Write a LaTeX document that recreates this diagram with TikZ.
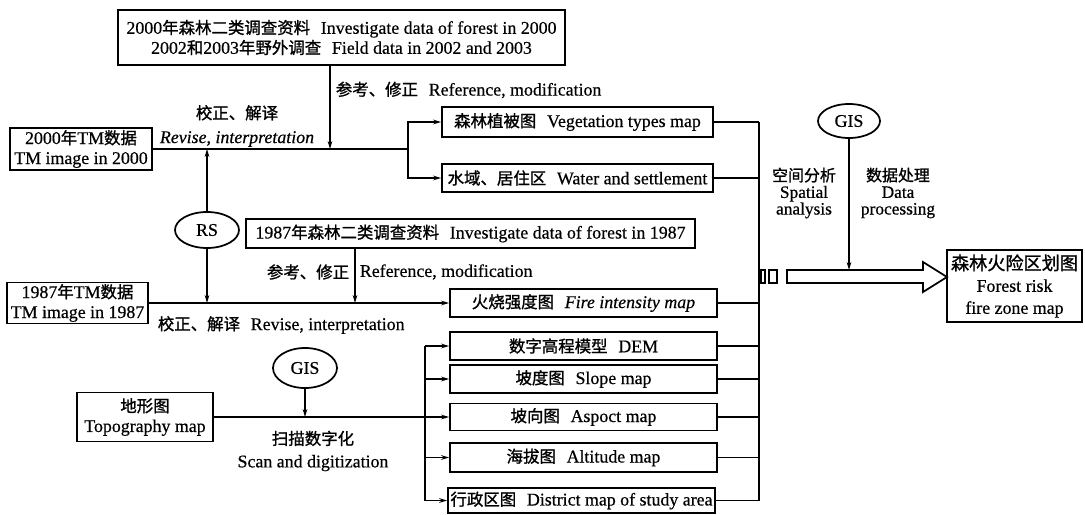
\documentclass[tikz,border=0pt]{standalone}
\usepackage{fontspec}
\setmainfont{Liberation Serif}[FakeBold=0.5]
\newfontfamily\cjk{Noto Sans CJK SC}[Scale=0.92,FakeBold=1.2]
\newcommand{\zh}[1]{{\cjk #1}}
\newcommand{\gp}{\hspace{0.6em}}
\usetikzlibrary{arrows.meta,shapes.geometric}
\begin{document}
\begin{tikzpicture}[x=0.75pt,y=-0.75pt, line width=1.3pt,
  bx/.style 2 args={draw, rectangle, minimum width=#1*0.75pt, minimum height=#2*0.75pt, inner sep=0pt, align=center},
  el/.style 2 args={draw, ellipse, minimum width=#1*0.75pt, minimum height=#2*0.75pt, inner sep=0pt},
  lbl/.style={inner sep=0pt, align=center},
  arr/.style={-{Stealth[length=6pt,width=3.5pt]}},
  font=\fontsize{13.4}{15}\selectfont]
\useasboundingbox (0,0) rectangle (1085,514);

% boxes
\node[bx={447}{55}] (top) at (341.5,37.5) {2000\zh{年森林二类调查资料}\gp Investigate data of forest in 2000\\2002\zh{和}2003\zh{年野外调查}\gp Field data in 2002 and 2003};
\node[bx={142}{42}] (tm2000) at (81,149) {2000\zh{年}TM\zh{数据}\\TM image in 2000};
\node[bx={271}{30}] (veg) at (577.5,122) {\zh{森林植被图}\gp Vegetation types map};
\node[bx={271}{28}] (water) at (577.5,178) {\zh{水域、居住区}\gp Water and settlement};
\node[el={64}{36}] (rs) at (207,230) {RS};
\node[bx={449}{29}] (inv87) at (470.5,233.5) {1987\zh{年森林二类调查资料}\gp Investigate data of forest in 1987};
\node[bx={141}{41}] (tm1987) at (77.5,303) {1987\zh{年}TM\zh{数据}\\TM image in 1987};
\node[bx={267}{28}] (fire) at (583.5,303) {\zh{火烧强度图}\gp\textit{Fire intensity map}};
\node[el={64}{40}] (gis2) at (305,368) {GIS};
\node[bx={136}{49}] (topo) at (145,417) {\zh{地形图}\\Topography map};
\node[bx={267}{28}] (dem) at (583.5,346) {\zh{数字高程模型}\gp DEM};
\node[bx={267}{28}] (slope) at (583.5,379) {\zh{坡度图}\gp Slope map};
\node[bx={267}{27}] (aspect) at (583.5,417) {\zh{坡向图}\gp Aspoct map};
\node[bx={267}{29}] (alt) at (583.5,457.5) {\zh{海拔图}\gp Altitude map};
\node[bx={267}{25}] (dist) at (581.5,500.5) {\zh{行政区图}\gp District map of study area};
\node[el={62}{34}] (gis1) at (849,121) {GIS};
\node[bx={135}{72}, font=\fontsize{13.4}{16.5}\selectfont] (final) at (1014.5,286) {{\fontsize{14.8}{16.5}\selectfont\zh{森林火险区划图}}\\Forest risk\\fire zone map};

% junction coordinates
\coordinate (j1) at (330,149);
\coordinate (j2) at (408,149);
\coordinate (ra) at (207,149);
\coordinate (rb) at (207,303);
\coordinate (j3) at (355,303);
\coordinate (bl) at (425,417);
\coordinate (bt) at (425,346);
\coordinate (bb) at (425,500.5);
\coordinate (rt) at (759,122);
\coordinate (rbt) at (759,500.5);
\coordinate (ga) at (849,270);

% connectors
\draw[arr] (top.south -| j1) -- (j1);
\draw (tm2000.east) -- (j2);
\draw[arr] (j2) |- (veg.west);
\draw[arr] (j2) |- (water.west);
\draw[arr] (rs.north) -- (ra);
\draw[arr] (rs.south) -- (rb);
\draw[arr] (inv87.south -| j3) -- (j3);
\draw[arr] (tm1987.east) -- (fire.west);
\draw[arr] (gis2.south) -- (gis2.south |- topo.east);
\draw (topo.east) -- (bl);
\draw (bt) -- (bb);
\foreach \n in {dem,slope,aspect,alt,dist}{
  \draw[arr] (\n.west -| bl) -- (\n.west);
  \draw (\n.east) -- (\n.east -| rt);
}
\foreach \n in {veg,water,fire}{
  \draw (\n.east) -- (\n.east -| rt);
}
\draw (rt) -- (rbt);
\draw[arr] (gis1.south) -- (ga);

% big arrow
\draw (787,270) -- (923,270) -- (923,262) -- (947,277) -- (923,292) -- (923,283) -- (787,283) -- cycle;
\draw (761,270) rectangle (765,283);
\draw (769,270) rectangle (777,283);

% labels
\node[lbl, anchor=west] (l1) at (335,90) {\zh{参考、修正}\gp Reference, modification};
\node[lbl, font=\fontsize{13.4}{18}\selectfont] (l2) at (237,126) {\zh{校正、解译}\\\textit{Revise, interpretation}};
\node[lbl, anchor=east] (l3) at (350,272) {\zh{参考、修正}};
\node[lbl, anchor=west] (l4) at (359,272) {Reference, modification};
\node[lbl, anchor=west] (l5) at (157,325) {\zh{校正、解译}\gp Revise, interpretation};
\node[lbl, font=\fontsize{13.4}{17}\selectfont] (l6) at (313,451) {\zh{扫描数字化}\\Scan and digitization};
\node[lbl, font=\fontsize{13}{12.5}\selectfont] (l7) at (804,193) {\zh{空间分析}\\Spatial\\analysis};
\node[lbl, font=\fontsize{13}{12.5}\selectfont] (l8) at (898,193) {\zh{数据处理}\\Data\\processing};
\end{tikzpicture}
\end{document}
